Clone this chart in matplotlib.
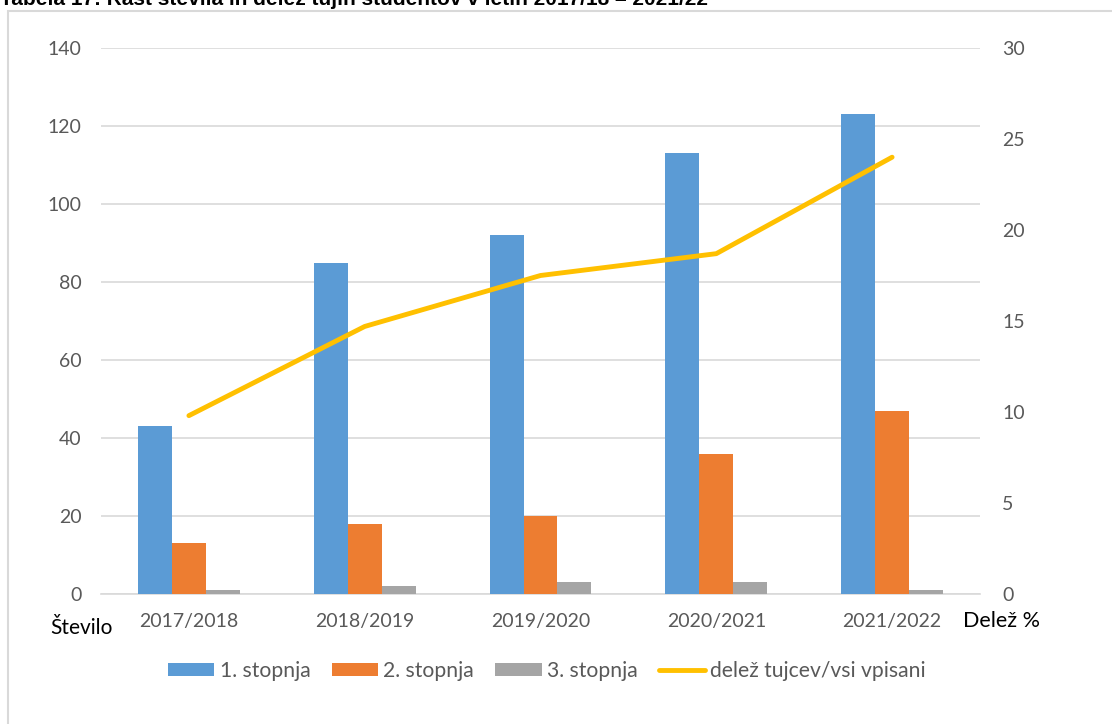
import numpy as np
import matplotlib
matplotlib.use("Agg")
import matplotlib.pyplot as plt
from matplotlib.patches import Rectangle

# data
years = ["2017/2018", "2018/2019", "2019/2020", "2020/2021", "2021/2022"]
stopnja1 = [43, 85, 92, 113, 123]
stopnja2 = [13, 18, 20, 36, 47]
stopnja3 = [1, 2, 3, 3, 1]
delez = [9.8, 14.7, 17.5, 18.7, 24.0]

plt.rcParams['font.family'] = ['Lato', 'DejaVu Sans']

def main():
    fig = plt.figure(figsize=(11.12, 7.24), dpi=100)
    W, H = 1112, 724

    # chart frame (only top and left edges visible in the crop)
    fig.patches.append(Rectangle((8 / W, -0.1), 1.2, 1 - 11 / H + 0.1,
                                 transform=fig.transFigure, fill=False,
                                 edgecolor='#d9d9d9', linewidth=1.5))
    # caption sits half outside the picture, as in the source crop
    fig.text(0.0, 1 - 5 / H, "Tabela 17: Rast števila in delež tujih študentov v letih 2017/18 – 2021/22",
             family=['Liberation Sans', 'DejaVu Sans'], fontweight='bold', fontsize=15,
             va='baseline', ha='left', color='black')

    ax = fig.add_axes([101 / W, 1 - 594 / H, (980 - 101) / W, (594 - 48) / H])
    ax2 = ax.twinx()

    x = np.arange(len(years))
    bw = 0.193
    blue, orange, gray, yellow = '#5b9bd5', '#ed7d31', '#a5a5a5', '#ffc000'
    ax.bar(x - bw, stopnja1, bw, color=blue, label='1. stopnja', zorder=3)
    ax.bar(x, stopnja2, bw, color=orange, label='2. stopnja', zorder=3)
    ax.bar(x + bw, stopnja3, bw, color=gray, label='3. stopnja', zorder=3)
    ax2.plot(x, delez, color=yellow, linewidth=3.5, solid_capstyle='round',
             label='delež tujcev/vsi vpisani', zorder=4)

    ax.set_xlim(-0.5, len(years) - 0.5)
    ax.set_ylim(0, 140)
    ax.set_yticks(np.arange(0, 141, 20))
    ax2.set_ylim(0, 30)
    ax2.set_yticks(np.arange(0, 31, 5))
    ax.set_xticks(x)
    ax.set_xticklabels(years)

    ax.grid(axis='y', color='#d9d9d9', linewidth=1.2, zorder=0)
    ax.set_axisbelow(True)
    for a in (ax, ax2):
        for s in a.spines.values():
            s.set_visible(False)
        a.tick_params(length=0, labelsize=14, labelcolor='#595959')
    ax.spines['bottom'].set_visible(True)
    ax.spines['bottom'].set_color('#d9d9d9')
    ax.spines['bottom'].set_linewidth(1.2)
    ax.tick_params(axis='y', pad=14)
    ax.tick_params(axis='x', pad=14)
    ax2.tick_params(axis='y', pad=16)

    fig.text(50 / W, 1 - 628 / H, "Število", fontsize=15, color='black', va='center', ha='left')
    fig.text(963 / W, 1 - 621 / H, "Delež %", fontsize=15.5, color='black', va='center', ha='left')

    h1, l1 = ax.get_legend_handles_labels()
    h2, l2 = ax2.get_legend_handles_labels()
    fig.legend(h1 + h2, l1 + l2, loc='center', bbox_to_anchor=(547 / W, 1 - 671 / H),
               ncol=4, frameon=False, fontsize=15.2, labelcolor='#595959',
               handlelength=2.2, handleheight=0.52, handletextpad=0.25, columnspacing=1.0)

    fig.savefig("out.png", dpi=100)

if __name__ == "__main__":
    main()
